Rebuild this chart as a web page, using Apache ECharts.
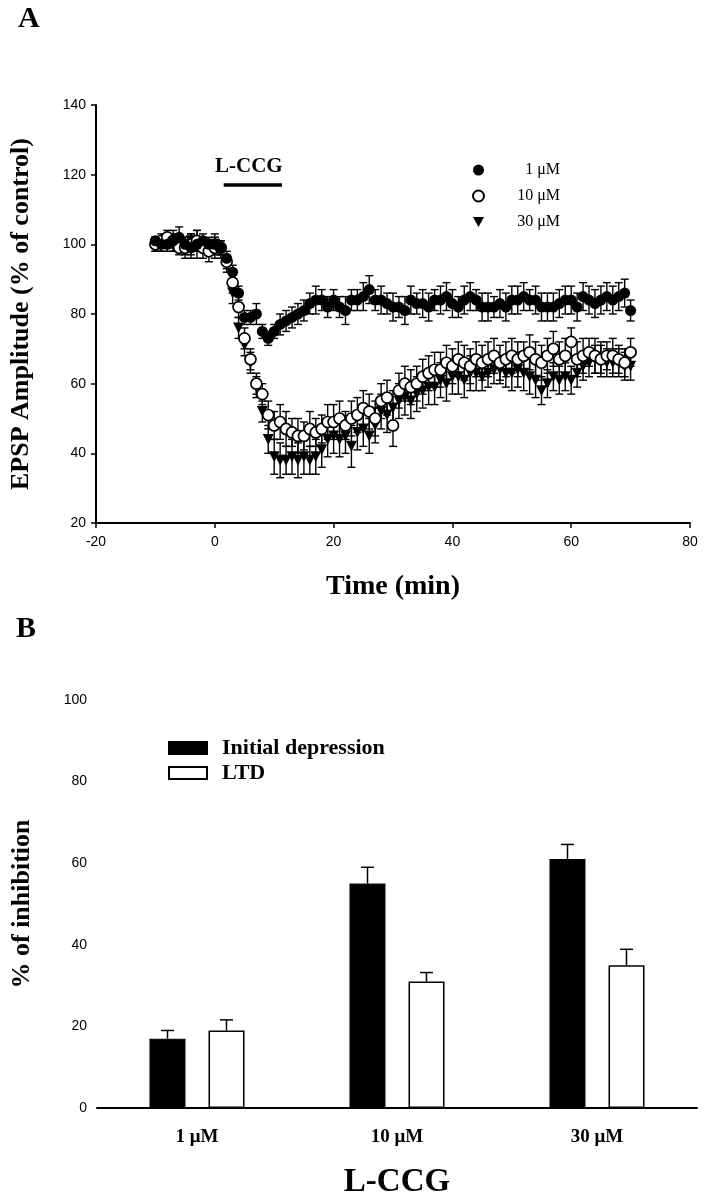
<!DOCTYPE html>
<html>
<head>
<meta charset="utf-8">
<script src="https://cdn.jsdelivr.net/npm/echarts@6/dist/echarts.min.js"></script>
<style>
  html, body { margin: 0; padding: 0; background: #fff; }
  #main { width: 704px; height: 1200px; }
</style>
</head>
<body>
<div id="main"></div>
<script>
// panel A: time course, one value per minute
var time = [-10,-9,-8,-7,-6,-5,-4,-3,-2,-1,
  0,1,2,3,4,5,6,7,8,9,
  10,11,12,13,14,15,16,17,18,19,
  20,21,22,23,24,25,26,27,28,29,
  30,31,32,33,34,35,36,37,38,39,
  40,41,42,43,44,45,46,47,48,49,
  50,51,52,53,54,55,56,57,58,59,
  60,61,62,63,64,65,66,67,68,69,
  70]

var amp1 = [101,100,100,101,102,100,99,100,101,100,
  100,99,96,92,86,79,79,80,75,73,
  75,77,78,79,80,81,83,84,84,82,
  84,82,81,84,84,85,87,84,84,83,
  82,82,81,84,83,83,82,84,84,85,
  83,82,84,85,84,82,82,82,83,82,
  84,84,85,84,84,82,82,82,83,84,
  84,82,85,84,83,84,85,84,85,86,
  81]
var err1 = [1,2,2,2,3,2,3,4,2,2,
  3,2,2,2,2,2,2,3,2,2,
  2,3,3,3,3,3,3,4,3,3,
  3,3,4,3,3,4,4,3,4,3,
  4,3,4,4,3,4,4,3,4,4,
  4,3,4,4,3,4,4,3,4,4,
  4,4,4,3,4,4,4,4,4,4,
  4,4,4,4,4,4,4,4,4,4,
  3]

var amp10 = [100,101,102,101,99,99,100,101,99,98,
  99,99,95,89,82,73,67,60,57,51,
  48,49,47,46,45,45,47,46,47,49,
  49,50,48,50,51,53,52,50,55,56,
  48,58,60,59,60,62,63,64,64,66,
  65,67,66,65,67,66,67,68,66,67,
  68,67,68,69,67,66,68,70,67,68,
  72,67,68,69,68,67,68,68,67,66,
  69]
var err10 = [2,2,2,3,2,3,3,3,3,3,
  3,2,2,3,3,3,3,3,3,4,
  4,5,5,4,5,4,5,4,4,5,
  5,5,4,5,5,5,5,5,5,5,
  6,5,5,5,5,5,5,5,5,5,
  5,5,5,5,5,5,5,5,5,5,
  5,5,4,5,5,5,5,5,5,5,
  4,5,5,4,5,5,4,5,4,4,
  4]

var amp30 = [100,100,101,100,100,99,101,100,100,99,
  100,98,94,86,76,71,66,59,52,44,
  39,38,38,39,38,39,38,39,41,44,
  45,44,45,42,46,47,45,48,52,51,
  53,55,56,55,57,58,59,59,61,60,
  62,62,61,63,63,62,63,64,64,63,
  63,64,63,62,61,58,60,62,61,62,
  61,63,65,66,67,67,66,66,66,65,
  65]
var err30 = [2,2,2,2,2,2,2,2,2,2,
  2,2,2,3,3,3,3,3,3,4,
  5,5,4,5,5,5,4,5,5,5,
  5,5,5,6,5,5,5,5,5,5,
  5,5,5,5,5,5,5,5,5,5,
  5,5,5,5,5,4,4,4,4,4,
  5,5,5,5,5,4,4,4,4,4,
  4,4,4,4,4,4,4,4,4,4,
  4]

// drug application bar
var drugStart = 1.5
var drugEnd = 11.3
var drugLevel = 117

// panel B
var doses = ['1 \u03bcM', '10 \u03bcM', '30 \u03bcM']
var initialDep = [17, 55, 61]
var initialErr = [2, 4, 3.6]
var ltd = [19, 31, 35]
var ltdErr = [2.6, 2.2, 3.9]

var serif = 'Liberation Serif'
var sans = 'Liberation Sans'

function pts(ys) {
  return time.map(function (t, i) { return [t, ys[i]] })
}
function errPts(ys, es) {
  return time.map(function (t, i) { return [t, ys[i], es[i]] })
}

function errBars(params, api) {
  var x = api.value(0), y = api.value(1), e = api.value(2)
  var top = api.coord([x, y + e])
  var bot = api.coord([x, y - e])
  var w = 4
  var st = { stroke: '#000', lineWidth: 1.4 }
  return {
    type: 'group',
    children: [
      { type: 'line', shape: { x1: top[0], y1: top[1], x2: bot[0], y2: bot[1] }, style: st },
      { type: 'line', shape: { x1: top[0] - w, y1: top[1], x2: top[0] + w, y2: top[1] }, style: st },
      { type: 'line', shape: { x1: bot[0] - w, y1: bot[1], x2: bot[0] + w, y2: bot[1] }, style: st }
    ]
  }
}

function barErr(offset) {
  return function (params, api) {
    var i = api.value(0), v = api.value(1), e = api.value(2)
    var p = api.coord([i, v])
    var top = api.coord([i, v + e])
    var x = p[0] + offset
    var st = { stroke: '#000', lineWidth: 1.5 }
    return {
      type: 'group',
      children: [
        { type: 'line', shape: { x1: x, y1: p[1], x2: x, y2: top[1] }, style: st },
        { type: 'line', shape: { x1: x - 6.5, y1: top[1], x2: x + 6.5, y2: top[1] }, style: st }
      ]
    }
  }
}

var axisLine = { onZero: false, lineStyle: { color: '#000', width: 2 } }
var axisTick = { inside: false, length: 5, lineStyle: { color: '#000', width: 1.5 } }
var tickLabel = { color: '#000', fontFamily: sans, fontSize: 14 }

var chart = echarts.init(document.getElementById('main'))
var option = {
  animation: false,
  backgroundColor: '#fff',
  grid: [
    { left: 96, top: 105, width: 594, height: 418 },
    { left: 97, top: 700, width: 600, height: 416 }
  ],
  xAxis: [
    {
      gridIndex: 0, type: 'value', min: -20, max: 80, interval: 20,
      axisLine: axisLine, axisTick: axisTick, splitLine: { show: false },
      axisLabel: Object.assign({ margin: 12 }, tickLabel),
      name: 'Time (min)', nameLocation: 'middle', nameGap: 50,
      nameTextStyle: { color: '#000', fontFamily: serif, fontWeight: 'bold', fontSize: 28 }
    },
    {
      gridIndex: 1, type: 'category', data: doses,
      axisLine: axisLine, axisTick: { show: false },
      axisLabel: { margin: 20, color: '#000', fontFamily: serif, fontWeight: 'bold', fontSize: 19 },
      name: 'L-CCG', nameLocation: 'middle', nameGap: 58,
      nameTextStyle: { color: '#000', fontFamily: serif, fontWeight: 'bold', fontSize: 33 }
    }
  ],
  yAxis: [
    {
      gridIndex: 0, type: 'value', min: 20, max: 140, interval: 20,
      axisLine: axisLine, axisTick: axisTick, splitLine: { show: false },
      axisLabel: Object.assign({ margin: 10 }, tickLabel),
      name: 'EPSP Amplitude (% of control)', nameLocation: 'middle', nameGap: 62,
      nameTextStyle: { color: '#000', fontFamily: serif, fontWeight: 'bold', fontSize: 26 }
    },
    {
      gridIndex: 1, type: 'value', min: 0, max: 100, interval: 20,
      axisLine: axisLine, axisTick: axisTick, splitLine: { show: false },
      axisLabel: Object.assign({ margin: 10 }, tickLabel),
      name: '% of inhibition', nameLocation: 'middle', nameGap: 62,
      nameTextStyle: { color: '#000', fontFamily: serif, fontWeight: 'bold', fontSize: 26 }
    }
  ],
  legend: [
    {
      orient: 'vertical', left: 467, top: 157, itemGap: 10,
      itemWidth: 11, itemHeight: 11,
      data: [
        { name: '1 \u03bcM' },
        { name: '10 \u03bcM' },
        { name: '30 \u03bcM', icon: 'path://M0,0L10,0L5,9Z' }
      ],
      formatter: function (n) { return '{r|' + n + '}' },
      textStyle: {
        color: '#000', fontFamily: serif, fontSize: 16,
        rich: { r: { width: 71, align: 'right', color: '#000', fontFamily: serif, fontSize: 16 } }
      }
    },
    {
      orient: 'vertical', left: 163, top: 732, itemGap: 3,
      itemWidth: 38, itemHeight: 12, icon: 'rect',
      data: ['Initial depression', 'LTD'],
      textStyle: { color: '#000', fontFamily: serif, fontWeight: 'bold', fontSize: 22, padding: [0, 0, 0, 10] }
    }
  ],
  graphic: [
    { type: 'text', left: 18, top: 4, style: { text: 'A', font: 'bold 30px "Liberation Serif"', fill: '#000' } },
    { type: 'text', left: 16, top: 614, style: { text: 'B', font: 'bold 30px "Liberation Serif"', fill: '#000' } },
    { type: 'text', left: 215, top: 156, style: { text: 'L-CCG', font: 'bold 21px "Liberation Serif"', fill: '#000' } }
  ],
  series: [
    { type: 'custom', xAxisIndex: 0, yAxisIndex: 0, renderItem: errBars, data: errPts(amp30, err30), z: 1, silent: true },
    { type: 'custom', xAxisIndex: 0, yAxisIndex: 0, renderItem: errBars, data: errPts(amp10, err10), z: 1, silent: true },
    { type: 'custom', xAxisIndex: 0, yAxisIndex: 0, renderItem: errBars, data: errPts(amp1, err1), z: 1, silent: true },
    {
      name: '30 \u03bcM', type: 'scatter', xAxisIndex: 0, yAxisIndex: 0,
      symbol: 'triangle', symbolRotate: 180, symbolSize: 11, z: 3,
      itemStyle: { color: '#000', opacity: 1 }, data: pts(amp30)
    },
    {
      name: '10 \u03bcM', type: 'scatter', xAxisIndex: 0, yAxisIndex: 0,
      symbol: 'circle', symbolSize: 11, z: 4,
      itemStyle: { color: '#fff', borderColor: '#000', borderWidth: 1.7, opacity: 1 }, data: pts(amp10)
    },
    {
      name: '1 \u03bcM', type: 'scatter', xAxisIndex: 0, yAxisIndex: 0,
      symbol: 'circle', symbolSize: 11, z: 5,
      itemStyle: { color: '#000', opacity: 1 }, data: pts(amp1)
    },
    {
      type: 'line', xAxisIndex: 0, yAxisIndex: 0, symbol: 'none', silent: true,
      lineStyle: { color: '#000', width: 3.5 },
      data: [[drugStart, drugLevel], [drugEnd, drugLevel]]
    },
    {
      name: 'Initial depression', type: 'bar', xAxisIndex: 1, yAxisIndex: 1,
      barWidth: 36, barGap: '64%',
      itemStyle: { color: '#000', borderColor: '#000', borderWidth: 1.2 },
      data: initialDep
    },
    {
      name: 'LTD', type: 'bar', xAxisIndex: 1, yAxisIndex: 1,
      barWidth: 36,
      itemStyle: { color: '#fff', borderColor: '#000', borderWidth: 1.5 },
      data: ltd
    },
    {
      type: 'custom', xAxisIndex: 1, yAxisIndex: 1, renderItem: barErr(-29.5), silent: true, z: 3,
      data: initialDep.map(function (v, i) { return [i, v, initialErr[i]] })
    },
    {
      type: 'custom', xAxisIndex: 1, yAxisIndex: 1, renderItem: barErr(29.5), silent: true, z: 3,
      data: ltd.map(function (v, i) { return [i, v, ltdErr[i]] })
    }
  ]
}
option && chart.setOption(option)
</script>
</body>
</html>
